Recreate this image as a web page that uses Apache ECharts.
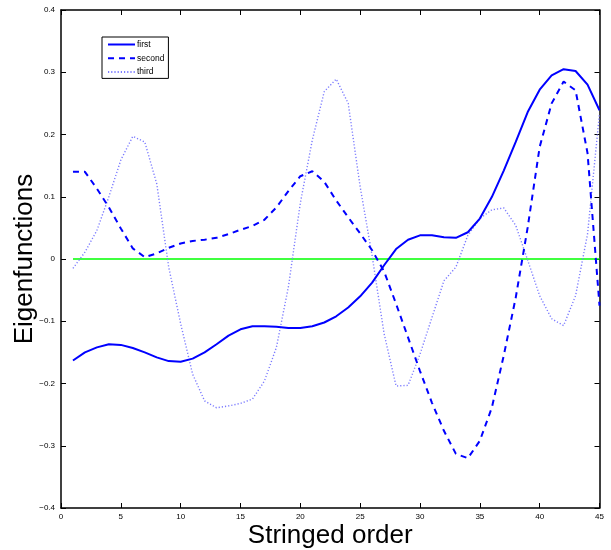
<!DOCTYPE html>
<html><head><meta charset="utf-8">
<script src="https://cdn.jsdelivr.net/npm/echarts@6/dist/echarts.min.js"></script>
<style>html,body{margin:0;padding:0;background:#fff}#c{width:611px;height:550px}</style>
</head><body><div id="c"></div>
<script>
var xs = [1,2,3,4,5,6,7,8,9,10,11,12,13,14,15,16,17,18,19,20,21,22,23,24,25,26,27,28,29,30,31,32,33,34,35,36,37,38,39,40,41,42,43,44,45];
var first = [-0.163,-0.150,-0.142,-0.137,-0.138,-0.143,-0.150,-0.158,-0.164,-0.165,-0.160,-0.150,-0.137,-0.123,-0.113,-0.108,-0.108,-0.109,-0.111,-0.111,-0.108,-0.102,-0.092,-0.078,-0.060,-0.038,-0.010,0.016,0.031,0.038,0.038,0.035,0.034,0.043,0.065,0.0995,0.142,0.188,0.236,0.272,0.295,0.305,0.302,0.280,0.239];
var second = [0.140,0.140,0.113,0.083,0.049,0.017,0.003,0.009,0.018,0.025,0.029,0.031,0.034,0.040,0.047,0.053,0.063,0.083,0.109,0.133,0.141,0.124,0.094,0.067,0.041,0.014,-0.020,-0.072,-0.126,-0.180,-0.231,-0.276,-0.313,-0.320,-0.292,-0.239,-0.155,-0.062,0.051,0.180,0.250,0.285,0.271,0.170,-0.075];
var third = [-0.015,0.011,0.046,0.100,0.159,0.197,0.188,0.121,-0.013,-0.104,-0.185,-0.228,-0.239,-0.236,-0.232,-0.225,-0.196,-0.142,-0.045,0.090,0.191,0.269,0.289,0.250,0.116,0.005,-0.120,-0.204,-0.203,-0.153,-0.094,-0.035,-0.013,0.038,0.065,0.079,0.082,0.054,-0.002,-0.059,-0.096,-0.107,-0.059,0.040,0.234];
var zeroLine = [[1,0],[45,0]];
var seriesNames = ['first','second','third'];

function pairs(v){ return xs.map(function(x,i){ return [x, v[i]]; }); }
function fmtY(v){ var s = Math.abs(v) < 1e-9 ? '0' : String(Math.round(v*10)/10); return s.replace('-', '\u2212'); }

var chart = echarts.init(document.getElementById('c'), null, {renderer:'canvas'});
var axisCommon = {
  axisLine:{show:true,onZero:false,lineStyle:{color:'#000',width:1.5}},
  axisTick:{show:true,inside:true,length:5,lineStyle:{color:'#000'}},
  splitLine:{show:false}
};
chart.setOption({
  animation:false,
  backgroundColor:'#fff',
  grid:{left:61,top:10,right:11.5,bottom:42,containLabel:false,outerBoundsMode:'none'},
  legend:{
    data:[
      {name:seriesNames[0]},
      {name:seriesNames[1]},
      {name:seriesNames[2]}
    ],
    orient:'vertical', left:102, top:37, itemWidth:27, itemHeight:8, itemGap:4.7,
    padding:[3,4,2,5], borderColor:'#000', borderWidth:1, backgroundColor:'#fff',
    itemStyle:{opacity:0},
    textStyle:{fontSize:8.5, fontFamily:'Liberation Sans, Arial', color:'#000', padding:[0,0,0,-3]},
    selectedMode:false
  },
  xAxis:[
    Object.assign({type:'value',min:0,max:45,interval:5,position:'bottom',
      name:'Stringed order',nameLocation:'middle',nameGap:15,nameMoveOverlap:false,
      nameTextStyle:{fontSize:26,fontFamily:'Liberation Sans, Arial',color:'#000',verticalAlign:'top'},
      axisLabel:{fontSize:8,color:'#000',margin:5,fontFamily:'Liberation Sans, Arial'}}, axisCommon),
    Object.assign({type:'value',min:0,max:45,interval:5,position:'top',axisLabel:{show:false}}, axisCommon)
  ],
  yAxis:[
    Object.assign({type:'value',min:-0.4,max:0.4,interval:0.1,position:'left',
      name:'Eigenfunctions',nameLocation:'middle',nameGap:23,nameRotate:90,nameMoveOverlap:false,
      nameTextStyle:{fontSize:26,fontFamily:'Liberation Sans, Arial',color:'#000'},
      axisLabel:{fontSize:8,color:'#000',margin:6,fontFamily:'Liberation Sans, Arial',formatter:fmtY}}, axisCommon),
    Object.assign({type:'value',min:-0.4,max:0.4,interval:0.1,position:'right',axisLabel:{show:false}}, axisCommon)
  ],
  series:[
    {name:'zero',type:'line',data:zeroLine,showSymbol:false,symbol:'none',silent:true,
      lineStyle:{color:'#00ff00',width:1.3},z:1},
    {name:seriesNames[0],type:'line',data:pairs(first),symbol:'none',
      itemStyle:{color:'#0000ff'},lineStyle:{color:'#0000ff',width:2,type:'solid'},z:3},
    {name:seriesNames[1],type:'line',data:pairs(second),symbol:'none',
      itemStyle:{color:'#0000ff'},lineStyle:{color:'#0000ff',width:2,type:[6,5]},z:3},
    {name:seriesNames[2],type:'line',data:pairs(third),symbol:'none',
      itemStyle:{color:'#7b7bff'},lineStyle:{color:'#7b7bff',width:1.4,type:[1.2,2]},z:2}
  ]
});
</script></body></html>
